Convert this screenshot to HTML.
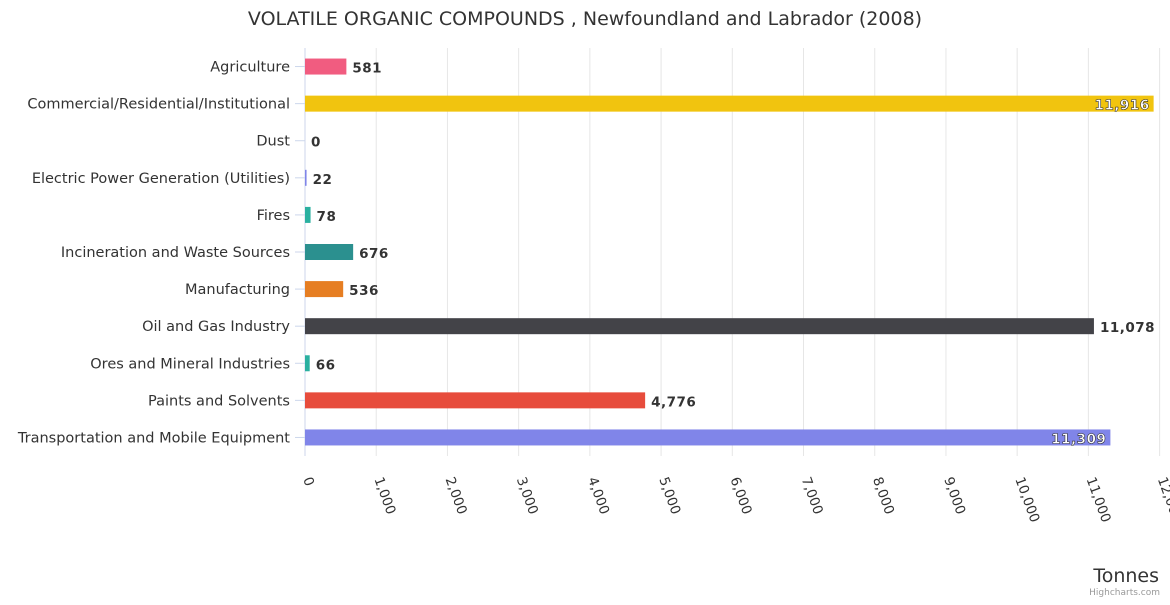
<!DOCTYPE html>
<html><head><meta charset="utf-8"><style>
body{margin:0;background:#fff;}
svg{font-family:"DejaVu Sans","Liberation Sans",sans-serif;}
</style></head><body>
<svg id="c" width="1170" height="600">
<rect width="1170" height="600" fill="#fff"/>
<text x="585" y="25" text-anchor="middle" font-size="19" fill="#333">VOLATILE ORGANIC COMPOUNDS , Newfoundland and Labrador (2008)</text>
<g id="grid"></g><g id="bars"></g><g id="ylab"></g><g id="xlab"></g>
<text x="1159" y="582" text-anchor="end" font-size="19" fill="#333">Tonnes</text>
<text x="1160" y="595" text-anchor="end" font-size="9" fill="#999">Highcharts.com</text>
</svg>
<script>
const categories=["Agriculture","Commercial/Residential/Institutional","Dust","Electric Power Generation (Utilities)","Fires","Incineration and Waste Sources","Manufacturing","Oil and Gas Industry","Ores and Mineral Industries","Paints and Solvents","Transportation and Mobile Equipment"];
const values=[581,11916,0,22,78,676,536,11078,66,4776,11309];
const colors=["#f15c80","#f1c40f","#2b908f","#8085e9","#2ab0a0","#2b908f","#e67e22","#434348","#2ab0a0","#e74c3c","#8085e9"];
const ticks=[0,1000,2000,3000,4000,5000,6000,7000,8000,9000,10000,11000,12000];
const tickLabels=["0","1,000","2,000","3,000","4,000","5,000","6,000","7,000","8,000","9,000","10,000","11,000","12,000"];
const NS="http://www.w3.org/2000/svg";
const x0=305,x1=1159.6,xmax=12000,plotTop=48,plotBot=456;
const xs=v=>x0+v/xmax*(x1-x0);
const step=(plotBot-plotTop)/categories.length;
const yc=i=>plotTop+step*(i+0.5);
function mk(t,a,p){const e=document.createElementNS(NS,t);for(const k in a)e.setAttribute(k,a[k]);document.getElementById(p).appendChild(e);return e;}
ticks.forEach((t,i)=>{
 const g=mk("line",{x1:xs(t),x2:xs(t),y1:plotTop,y2:plotBot,stroke:i==0?"#ccd6eb":"#e6e6e6"},"grid");
 
 
 const tx=mk("text",{x:xs(t)-2,y:479,"font-size":13.5,fill:"#333",transform:`rotate(70 ${xs(t)-2} 479)`},"xlab");
 tx.textContent=tickLabels[i];
 
 
});
categories.forEach((c,i)=>{
 const y=yc(i);
 const tk=mk("line",{x1:x0-10,x2:x0,y1:y,y2:y,stroke:"#ccd6eb"},"grid");
 
 
 const l=mk("text",{x:290,y:y+5,"text-anchor":"end","font-size":14.5,fill:"#333"},"ylab");
 l.textContent=c;
 
 
 const w=xs(values[i])-x0;
 const b=mk("rect",{x:x0,y:y-8,width:Math.max(w,values[i]>0?1:0),height:16,fill:colors[i]},"bars");
 
 
 const s=values[i].toLocaleString('en-US');
 const inside=values[i]>11200;
 const v=mk("text",{x:inside?xs(values[i])-4:xs(values[i])+6,y:y+6,"text-anchor":inside?"end":"start","font-size":13.5,"font-weight":"bold",fill:inside?"#fff":"#333",stroke:inside?"#333":"none","stroke-width":inside?0.6:0,"letter-spacing":"0.5"},"bars");
 v.textContent=s;
 
 
});
const ax=mk("line",{x1:x0,x2:x0,y1:plotTop,y2:plotBot,stroke:"#ccd6eb"},"grid");


</script>
</body></html>
